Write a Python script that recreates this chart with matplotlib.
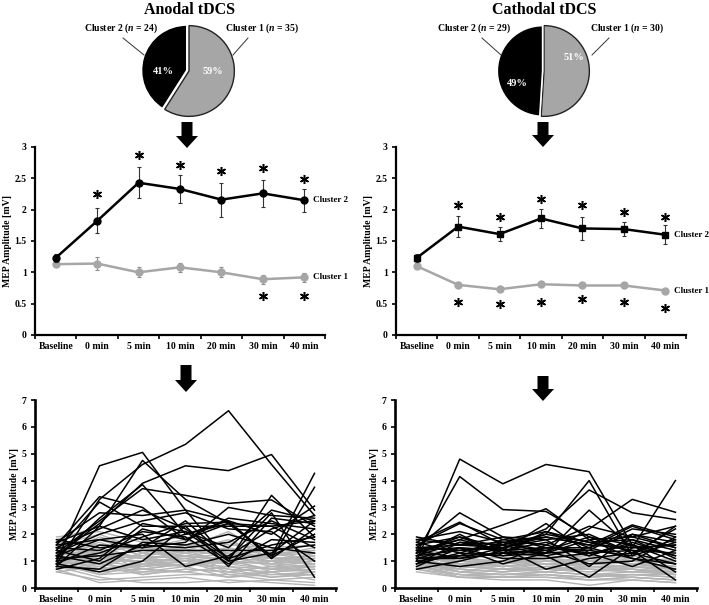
import matplotlib
matplotlib.use("Agg")
import matplotlib.pyplot as plt
from matplotlib.patches import FancyArrow

plt.rcParams['font.family'] = ['Liberation Serif', 'DejaVu Serif']
plt.rcParams['font.weight'] = 'bold'
plt.rcParams['mathtext.fontset'] = 'custom'
plt.rcParams['mathtext.rm'] = 'Liberation Serif:bold'
plt.rcParams['mathtext.it'] = 'Liberation Serif:italic:bold'

# ---------------- data ----------------
timepoints = ["Baseline", "0 min", "5 min", "10 min", "20 min", "30 min", "40 min"]

an_pie_values = [59, 41]
an_pie_labels = ["Cluster 1 ($\\mathit{n}$ = 35)", "Cluster 2 ($\\mathit{n}$ = 24)"]
ca_pie_values = [51, 49]
ca_pie_labels = ["Cluster 1 ($\\mathit{n}$ = 30)", "Cluster 2 ($\\mathit{n}$ = 29)"]

an_c2_mean = [1.23, 1.82, 2.43, 2.33, 2.16, 2.26, 2.15]
an_c2_err = [0.07, 0.20, 0.25, 0.22, 0.27, 0.22, 0.18]
an_c1_mean = [1.13, 1.14, 1.00, 1.08, 1.00, 0.89, 0.92]
an_c1_err = [0.05, 0.10, 0.08, 0.07, 0.08, 0.07, 0.07]
an_star_up = [None, 2.25, 2.88, 2.72, 2.61, 2.66, 2.49]
an_star_dn = [None, None, None, None, None, 0.63, 0.63]

ca_c2_mean = [1.23, 1.73, 1.61, 1.86, 1.70, 1.69, 1.60]
ca_c2_err = [0.06, 0.17, 0.11, 0.15, 0.18, 0.11, 0.15]
ca_c1_mean = [1.10, 0.80, 0.73, 0.81, 0.79, 0.79, 0.71]
ca_c1_err = [0.03, 0.04, 0.03, 0.04, 0.04, 0.04, 0.03]
ca_star_up = [None, 2.08, 1.89, 2.17, 2.07, 1.96, 1.88]
ca_star_dn = [None, 0.53, 0.49, 0.53, 0.57, 0.53, 0.43]

an_c2_subjects = [
    [0.9, 3.3, 4.6, 5.35, 6.6, 4.6, 2.7],
    [1.0, 4.55, 5.05, 2.9, 1.0, 1.3, 2.5],
    [0.8, 2.3, 4.75, 3.3, 2.4, 1.2, 4.27],
    [1.2, 2.4, 3.9, 4.55, 4.37, 4.97, 2.9],
    [1.1, 2.6, 3.85, 2.0, 2.5, 1.1, 3.75],
    [1.6, 3.4, 3.0, 1.8, 2.4, 1.2, 2.0],
    [1.3, 2.5, 3.7, 3.45, 3.15, 3.28, 2.3],
    [0.7, 1.1, 2.4, 2.1, 1.0, 3.45, 1.9],
    [1.5, 2.2, 2.9, 2.2, 1.1, 2.8, 0.4],
    [1.7, 2.8, 2.7, 2.9, 2.5, 2.0, 3.05],
    [0.9, 0.6, 1.0, 2.3, 0.8, 2.6, 2.4],
    [1.4, 3.2, 2.3, 2.3, 2.3, 2.3, 2.5],
    [1.8, 1.5, 1.6, 2.0, 2.4, 2.3, 1.5],
    [1.0, 1.3, 1.9, 2.4, 2.45, 1.1, 2.2],
    [1.2, 1.8, 1.5, 1.7, 3.0, 2.7, 2.6],
    [0.8, 0.7, 1.7, 1.6, 2.0, 1.5, 1.3],
    [1.5, 1.4, 2.1, 1.9, 0.9, 1.8, 1.7],
    [1.3, 2.0, 2.5, 2.8, 2.2, 2.1, 1.0],
    [1.1, 1.2, 1.4, 1.4, 1.4, 1.4, 1.6],
    [1.6, 1.8, 2.0, 0.8, 1.2, 2.2, 2.7],
    [0.9, 1.6, 1.5, 2.5, 1.1, 1.6, 1.9],
    [1.4, 1.0, 2.2, 1.8, 2.6, 2.4, 2.2],
    [1.2, 0.9, 1.6, 1.5, 1.7, 2.5, 1.8],
    [1.7, 2.3, 1.8, 2.1, 1.5, 2.9, 2.5],
]

an_c1_subjects = [
    [1.2, 1.5, 1.1, 1.3, 1.0, 0.9, 0.8],
    [0.9, 0.5, 0.6, 0.8, 0.4, 0.5, 0.6],
    [1.5, 1.8, 1.3, 1.6, 1.4, 1.1, 1.2],
    [0.7, 0.2, 0.3, 0.4, 0.2, 0.3, 0.2],
    [1.1, 1.3, 0.9, 1.0, 1.2, 0.8, 1.0],
    [1.8, 2.3, 1.8, 1.6, 1.7, 1.3, 1.4],
    [0.6, 0.8, 0.5, 0.7, 0.6, 0.4, 0.5],
    [1.3, 1.1, 1.0, 1.4, 0.9, 1.0, 0.9],
    [1.0, 0.9, 0.7, 0.6, 0.8, 0.7, 0.6],
    [1.6, 2.0, 1.4, 1.5, 2.1, 1.2, 1.5],
    [0.8, 0.4, 0.2, 0.2, 0.3, 0.2, 0.1],
    [1.4, 1.2, 1.2, 1.1, 1.3, 1.1, 1.1],
    [1.2, 1.0, 0.8, 0.9, 0.7, 0.6, 0.7],
    [0.9, 1.4, 1.1, 1.2, 1.0, 0.9, 1.3],
    [1.7, 1.6, 1.5, 1.8, 1.2, 1.4, 1.0],
    [0.6, 0.3, 0.4, 0.5, 0.5, 0.3, 0.4],
    [1.1, 0.7, 0.9, 1.1, 0.6, 0.8, 0.8],
    [1.5, 1.3, 1.6, 1.3, 1.5, 1.2, 1.3],
    [1.0, 1.1, 1.0, 0.8, 1.1, 0.6, 0.7],
    [1.3, 1.7, 1.2, 1.6, 1.3, 1.0, 1.2],
    [0.8, 0.6, 0.7, 0.9, 0.8, 0.5, 0.5],
    [1.4, 0.9, 1.3, 1.2, 1.1, 1.3, 1.0],
    [1.9, 2.1, 1.7, 1.9, 1.6, 1.5, 1.6],
    [0.7, 0.9, 0.6, 0.6, 0.4, 0.6, 0.8],
    [1.2, 1.4, 0.8, 1.0, 0.9, 0.7, 0.9],
    [1.0, 0.8, 1.2, 1.4, 1.2, 1.1, 0.9],
    [1.6, 1.2, 1.1, 1.0, 1.0, 0.9, 1.1],
    [0.9, 1.0, 0.5, 0.7, 0.6, 0.8, 0.6],
    [1.3, 1.6, 1.4, 1.2, 1.4, 0.9, 1.0],
    [1.1, 0.5, 0.9, 1.2, 0.7, 0.4, 0.6],
    [0.8, 1.2, 0.9, 0.8, 1.0, 0.7, 0.8],
    [1.5, 1.0, 1.0, 1.1, 0.9, 1.2, 1.4],
    [1.2, 1.9, 1.5, 1.4, 1.8, 1.1, 1.2],
    [0.9, 0.7, 0.8, 1.0, 0.5, 0.6, 0.3],
    [1.0, 1.3, 0.7, 0.9, 1.1, 1.0, 1.1],
]

ca_c2_subjects = [
    [1.0, 4.8, 3.88, 4.6, 4.33, 1.6, 1.2],
    [1.3, 4.15, 2.92, 2.85, 1.9, 1.3, 0.9],
    [1.5, 2.8, 1.9, 1.5, 1.5, 2.0, 1.7],
    [1.2, 1.4, 1.5, 2.0, 4.0, 1.2, 2.3],
    [1.7, 2.45, 1.6, 2.2, 3.65, 2.8, 2.55],
    [0.8, 1.5, 1.4, 1.3, 2.2, 3.3, 2.82],
    [1.1, 1.2, 1.3, 1.2, 0.4, 1.5, 4.0],
    [1.4, 1.8, 2.35, 2.95, 1.8, 1.1, 0.7],
    [0.9, 1.3, 1.2, 1.3, 2.9, 1.5, 1.6],
    [1.6, 2.4, 1.8, 2.1, 1.5, 2.3, 1.8],
    [1.2, 1.7, 1.4, 2.4, 1.3, 0.8, 1.4],
    [1.8, 2.1, 1.7, 1.9, 1.6, 2.35, 1.9],
    [1.0, 0.8, 1.0, 1.6, 1.2, 1.8, 1.1],
    [1.3, 1.9, 1.5, 0.7, 1.1, 1.3, 2.2],
    [1.5, 1.6, 1.9, 1.8, 0.8, 2.0, 1.5],
    [1.1, 1.1, 1.3, 1.4, 1.9, 1.6, 0.6],
    [1.4, 1.5, 0.9, 1.3, 1.4, 1.2, 1.7],
    [0.9, 1.7, 1.6, 2.0, 1.7, 1.4, 1.3],
    [1.7, 1.3, 1.8, 1.6, 2.3, 1.9, 1.5],
    [1.2, 2.0, 1.2, 1.5, 1.4, 2.2, 2.0],
    [1.5, 1.4, 1.6, 1.2, 1.5, 1.1, 0.9],
    [1.3, 1.8, 1.4, 1.7, 1.2, 1.7, 1.2],
    [1.9, 1.6, 1.5, 1.9, 1.6, 1.5, 1.6],
    [1.0, 1.2, 1.7, 1.4, 0.9, 1.0, 1.9],
    [1.6, 1.9, 1.3, 2.1, 1.7, 1.8, 1.4],
    [1.1, 1.5, 1.1, 1.1, 1.3, 1.6, 1.0],
    [1.4, 1.1, 1.5, 1.8, 2.0, 1.3, 1.8],
    [0.7, 1.0, 1.4, 1.5, 1.3, 1.4, 0.3],
    [1.8, 1.6, 1.7, 1.3, 1.8, 1.9, 2.3],
]

ca_c1_subjects = [
    [1.3, 0.9, 0.8, 1.0, 0.9, 1.0, 0.8],
    [0.9, 0.6, 0.5, 0.6, 0.5, 0.6, 0.5],
    [1.4, 1.1, 1.0, 1.2, 1.1, 1.0, 1.0],
    [0.7, 0.4, 0.3, 0.3, 0.1, 0.3, 0.2],
    [1.1, 0.8, 0.7, 0.9, 0.8, 0.7, 0.6],
    [1.2, 1.0, 0.9, 1.1, 1.0, 1.2, 0.9],
    [0.8, 0.5, 0.4, 0.5, 0.4, 0.5, 0.4],
    [1.0, 0.7, 0.6, 0.7, 0.6, 0.8, 0.7],
    [1.5, 1.2, 1.1, 1.3, 1.2, 1.1, 0.9],
    [0.6, 0.4, 0.4, 0.4, 0.3, 0.4, 0.3],
    [1.2, 0.9, 0.8, 0.9, 1.0, 0.9, 0.8],
    [0.9, 0.7, 0.6, 0.8, 0.7, 0.6, 0.6],
    [1.3, 0.8, 0.9, 1.0, 1.1, 0.9, 0.7],
    [1.0, 0.6, 0.7, 0.6, 0.8, 0.7, 0.5],
    [1.1, 1.0, 0.8, 0.9, 0.9, 1.0, 1.1],
    [0.8, 0.5, 0.5, 0.6, 0.5, 0.4, 0.3],
    [1.4, 1.0, 1.0, 1.1, 1.2, 1.1, 0.9],
    [1.2, 0.7, 0.6, 0.7, 0.6, 0.7, 0.6],
    [0.9, 0.9, 0.7, 0.8, 0.9, 0.8, 0.7],
    [1.1, 0.6, 0.5, 0.5, 0.4, 0.5, 0.5],
    [1.3, 1.1, 0.9, 1.0, 1.0, 0.9, 0.8],
    [1.0, 0.8, 0.7, 0.7, 0.7, 0.6, 0.6],
    [0.7, 0.5, 0.4, 0.4, 0.3, 0.4, 0.3],
    [1.2, 0.9, 1.0, 1.0, 0.9, 1.1, 1.0],
    [1.4, 0.9, 0.8, 0.9, 0.8, 0.8, 0.7],
    [1.0, 0.7, 0.6, 0.8, 0.7, 0.7, 0.5],
    [0.8, 0.6, 0.5, 0.6, 0.5, 0.5, 0.4],
    [1.1, 1.2, 0.9, 1.1, 1.0, 0.9, 1.0],
    [1.3, 0.8, 0.7, 0.7, 0.8, 0.8, 0.6],
    [0.9, 0.4, 0.4, 0.5, 0.3, 0.3, 0.2],
]

# ---------------- layout helpers ----------------
W, H = 709, 605
fig = plt.figure(figsize=(W / 100, H / 100), dpi=100)
fig.patch.set_facecolor('white')


def pax(l, t, r, b):
    return fig.add_axes([l / W, 1 - b / H, (r - l) / W, (b - t) / H])


GREY = '#a6a6a6'
LGREY = '#b4b4b4'
x = list(range(len(timepoints)))


def style_axes(ax, ymax, ystep, lw):
    ax.set_xlim(-0.5, len(timepoints) - 0.5)
    ax.set_ylim(0, ymax)
    for s in ['top', 'right']:
        ax.spines[s].set_visible(False)
    for s in ['left', 'bottom']:
        ax.spines[s].set_linewidth(lw)
    ax.set_xticks(x)
    ax.set_xticklabels(timepoints, fontsize=7, fontweight='bold')
    ax.set_xticks([i - 0.5 for i in range(len(timepoints) + 1)], minor=True)
    ax.tick_params(axis='x', which='major', length=0, pad=5)
    ax.tick_params(axis='x', which='minor', length=3, width=1.2, direction='out')
    yt = [i * ystep for i in range(int(round(ymax / ystep)) + 1)]
    ax.set_yticks(yt)
    ax.set_yticklabels([('%g' % v) for v in yt], fontsize=7, fontweight='bold')
    ax.tick_params(axis='y', length=3, width=1.2, direction='out', pad=3)
    ax.set_ylabel('MEP Amplitude [mV]', fontsize=7, fontweight='bold', labelpad=2)
    ax.patch.set_alpha(0)


def draw_pie(ax, values, explode):
    wedges, _ = ax.pie(values, colors=[GREY, 'black'], startangle=90, counterclock=False,
                       explode=explode, radius=1.0)
    wedges[0].set_edgecolor('#222222')
    wedges[0].set_linewidth(1.0)
    wedges[1].set_edgecolor('white')
    wedges[1].set_linewidth(1.2)
    ax.set_xlim(-1.08, 1.08)
    ax.set_ylim(-1.08, 1.08)
    ax.set_aspect('equal')
    ax.axis('off')


# ---------------- pies ----------------
ax_p1 = pax(140, 22, 238, 120)
draw_pie(ax_p1, an_pie_values, [0, 0.05])
ax_p2 = pax(495, 22, 593, 120)
draw_pie(ax_p2, ca_pie_values, [0, 0.03])


# ---------------- middle panels ----------------
def mean_panel(ax, c2m, c2e, c1m, c1e, c2marker, up, dn):
    ax.errorbar(x, c1m, yerr=c1e, color=GREY, lw=1.8, marker='o', ms=5, mfc=GREY, mec=GREY,
                ecolor='#8c8c8c', elinewidth=0.8, capsize=1.5, capthick=0.8, zorder=3)
    ax.errorbar(x, c2m, yerr=c2e, color='black', lw=1.8, marker=c2marker, ms=5,
                ecolor='#333333', elinewidth=0.8, capsize=1.5, capthick=0.8, zorder=4)
    ux = [i for i, v in enumerate(up) if v is not None]
    ax.plot(ux, [up[i] for i in ux], ls='none', marker=(6, 2, 0), ms=6.5, mew=1.1,
            color='black', clip_on=False)
    dx = [i for i, v in enumerate(dn) if v is not None]
    ax.plot(dx, [dn[i] for i in dx], ls='none', marker=(6, 2, 0), ms=6.5, mew=1.1,
            color='black', clip_on=False)
    ax.text(6.2, c2m[-1], 'Cluster 2', fontsize=6.5, fontweight='bold', va='center', ha='left',
            clip_on=False)
    ax.text(6.2, c1m[-1], 'Cluster 1', fontsize=6.5, fontweight='bold', va='center', ha='left',
            clip_on=False)


ax_m1 = pax(35, 147, 325, 335)
style_axes(ax_m1, 3, 0.5, 1.6)
mean_panel(ax_m1, an_c2_mean, an_c2_err, an_c1_mean, an_c1_err, 'o', an_star_up, an_star_dn)

ax_m2 = pax(396, 147, 686, 335)
style_axes(ax_m2, 3, 0.5, 1.6)
mean_panel(ax_m2, ca_c2_mean, ca_c2_err, ca_c1_mean, ca_c1_err, 's', ca_star_up, ca_star_dn)


# ---------------- bottom panels ----------------
def subject_panel(ax, c1, c2):
    for s in c1:
        ax.plot(x, s, color=LGREY, lw=1.0, zorder=2)
    for s in c2:
        ax.plot(x, s, color='black', lw=1.1, zorder=3)


ax_b1 = pax(35, 400, 336, 588)
style_axes(ax_b1, 7, 1, 1.9)
subject_panel(ax_b1, an_c1_subjects, an_c2_subjects)

ax_b2 = pax(395, 400, 697, 588)
style_axes(ax_b2, 7, 1, 1.9)
subject_panel(ax_b2, ca_c1_subjects, ca_c2_subjects)

# ---------------- overlay: titles, labels, arrows ----------------
ov = fig.add_axes([0, 0, 1, 1], zorder=10)
ov.set_xlim(0, W)
ov.set_ylim(H, 0)
ov.axis('off')
ov.patch.set_alpha(0)

ov.text(189, 10, 'Anodal tDCS', fontsize=11.5, fontweight='bold', ha='center', va='center')
ov.text(544, 10, 'Cathodal tDCS', fontsize=11.5, fontweight='bold', ha='center', va='center')

ov.text(121, 28, an_pie_labels[1], fontsize=7, ha='center', va='center')
ov.text(262, 28, an_pie_labels[0], fontsize=7, ha='center', va='center')
ov.plot([123, 144], [38, 55], color='#333333', lw=0.7)
ov.plot([248, 233], [38, 55], color='#333333', lw=0.7)
ov.text(163, 71, '%d%%' % an_pie_values[1], fontsize=7.5, color='white', ha='center', va='center')
ov.text(213, 71, '%d%%' % an_pie_values[0], fontsize=7.5, color='white', ha='center', va='center')

ov.text(474, 28, ca_pie_labels[1], fontsize=7, ha='center', va='center')
ov.text(627, 28, ca_pie_labels[0], fontsize=7, ha='center', va='center')
ov.plot([482, 501], [38, 55], color='#333333', lw=0.7)
ov.plot([609, 592], [38, 55], color='#333333', lw=0.7)
ov.text(574, 57, '%d%%' % ca_pie_values[0], fontsize=7.5, color='white', ha='center', va='center')
ov.text(517, 84, '%d%%' % ca_pie_values[1], fontsize=7.5, color='white', ha='center', va='center')

for (ax_, y0, y1) in [(187, 122, 148), (543, 122, 147), (186, 365, 392), (543, 376, 401)]:
    ov.add_patch(FancyArrow(ax_, y0, 0, (y1 - y0), width=11, head_width=22,
                            head_length=12, length_includes_head=True,
                            color='black', lw=0))

fig.savefig('out.png', dpi=100, facecolor='white')
